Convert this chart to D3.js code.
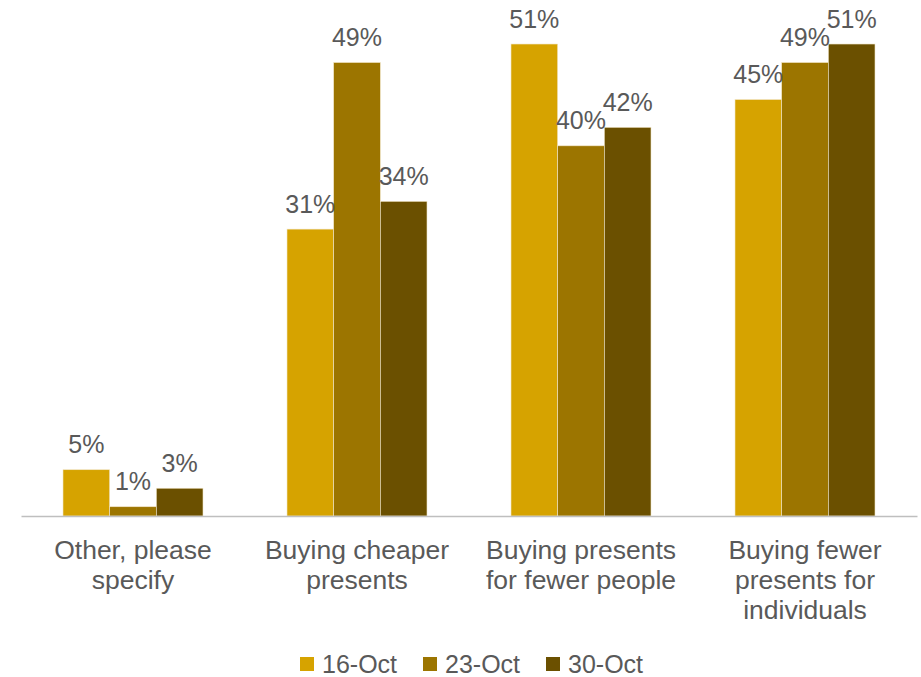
<!DOCTYPE html>
<html>
<head>
<meta charset="utf-8">
<script src="https://cdn.jsdelivr.net/npm/d3@7"></script>
<style>
  html, body { margin: 0; padding: 0; background: #fff; }
  svg { display: block; font-family: "Liberation Sans", Arial, sans-serif; }
</style>
</head>
<body>
<svg id="chart" width="921" height="677"></svg>
<script>
// Survey answers, grouped by week
const categories = [
  ["Other, please", "specify"],
  ["Buying cheaper", "presents"],
  ["Buying presents", "for fewer people"],
  ["Buying fewer", "presents for", "individuals"]
];
const seriesNames = ["16-Oct", "23-Oct", "30-Oct"];
const oct16 = [5, 31, 51, 45];
const oct23 = [1, 49, 40, 49];
const oct30 = [3, 34, 42, 51];
const seriesValues = [oct16, oct23, oct30];
const colors = ["#D6A300", "#9C7500", "#6B5000"];

const svg = d3.select("#chart");
const left = 21, right = 917, baseY = 516, topY = 7;

const x0 = d3.scaleBand()
  .domain(d3.range(categories.length))
  .range([left, right])
  .paddingInner(0.375)
  .paddingOuter(0.1875);
const x1 = d3.scaleBand()
  .domain(d3.range(seriesNames.length))
  .range([0, x0.bandwidth()]);
const y = d3.scaleLinear().domain([0, 55]).range([baseY, topY]);

// bars
const groups = svg.append("g").selectAll("g")
  .data(categories)
  .join("g")
  .attr("transform", (d, i) => `translate(${x0(i)},0)`);

groups.selectAll("rect")
  .data((d, i) => seriesValues.map((vals, s) => ({ s, v: vals[i] })))
  .join("rect")
  .attr("x", d => x1(d.s))
  .attr("y", d => y(d.v))
  .attr("width", x1.bandwidth())
  .attr("height", d => baseY - y(d.v))
  .attr("fill", d => colors[d.s])
  .attr("stroke", "#F2E6C8")
  .attr("stroke-width", 0.6);

// value labels
groups.selectAll("text.val")
  .data((d, i) => seriesValues.map((vals, s) => ({ s, v: vals[i] })))
  .join("text")
  .attr("class", "val")
  .attr("x", d => x1(d.s) + x1.bandwidth() / 2)
  .attr("y", d => y(d.v) - 16.5)
  .attr("text-anchor", "middle")
  .attr("font-size", 25)
  .attr("fill", "#595959")
  .text(d => d.v + "%");

// baseline axis
const xAxis = d3.axisBottom(x0).tickSize(0).tickFormat("");
const axisG = svg.append("g")
  .attr("transform", `translate(0,${baseY})`)
  .call(xAxis);
axisG.select(".domain").attr("stroke", "#BFBFBF").attr("stroke-width", 1.5);

// category labels
svg.append("g").selectAll("text")
  .data(categories)
  .join("text")
  .attr("x", (d, i) => x0(i) + x0.bandwidth() / 2)
  .attr("y", 559)
  .attr("text-anchor", "middle")
  .attr("font-size", 26.5)
  .attr("fill", "#595959")
  .each(function (lines) {
    d3.select(this).selectAll("tspan")
      .data(lines)
      .join("tspan")
      .attr("x", d3.select(this).attr("x"))
      .attr("dy", (l, k) => k === 0 ? 0 : 30)
      .text(l => l);
  });

// legend
const legendX = [300, 423, 546];
const legend = svg.append("g").selectAll("g")
  .data(seriesNames)
  .join("g")
  .attr("transform", (d, i) => `translate(${legendX[i]},657)`);
legend.append("rect")
  .attr("width", 14).attr("height", 14)
  .attr("fill", (d, i) => colors[i]);
legend.append("text")
  .attr("x", 22).attr("y", 16)
  .attr("font-size", 25)
  .attr("fill", "#595959")
  .text(d => d);
</script>
</body>
</html>
